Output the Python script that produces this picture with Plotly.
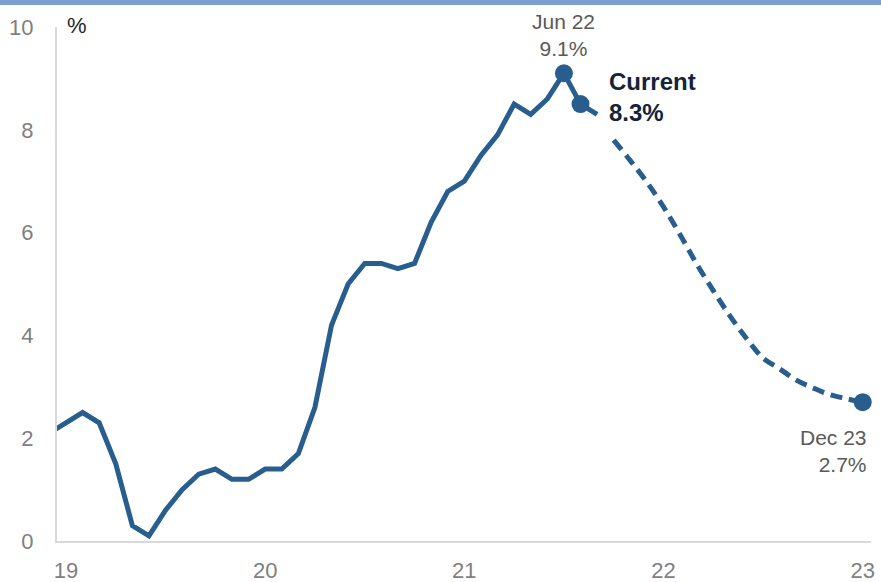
import plotly.graph_objects as go

# months since Dec 2019 (0 = Dec 19, 12 = Dec 20, ...)
actual_months = list(range(-1, 33))  # Nov 19 .. Aug 22
actual_values = [2.1, 2.3, 2.5, 2.3, 1.5, 0.3, 0.1, 0.6, 1.0, 1.3, 1.4, 1.2, 1.2, 1.4,
                 1.4, 1.7, 2.6, 4.2, 5.0, 5.4, 5.4, 5.3, 5.4, 6.2, 6.8, 7.0,
                 7.5, 7.9, 8.5, 8.3, 8.6, 9.1, 8.5, 8.3]

proj_months = list(range(33, 49))  # Sep 22 .. Dec 23
proj_values = [7.8, 7.4, 6.98, 6.5, 5.96, 5.39, 4.87, 4.38, 3.94, 3.56, 3.35,
               3.13, 2.98, 2.85, 2.77, 2.7]

marker_months = [30, 31, 48]
marker_values = [9.1, 8.5, 2.7]

tick_vals = [0, 12, 24, 36, 48]
tick_text = ["19", "20", "21", "22", "23"]
y_ticks = [0, 2, 4, 6, 8, 10]

LINE = "#285e8e"
FONT = "Liberation Sans, Arial, sans-serif"

fig = go.Figure()
fig.add_trace(go.Scatter(x=actual_months, y=actual_values, mode="lines",
                         line=dict(color=LINE, width=5), hoverinfo="skip"))
fig.add_trace(go.Scatter(x=proj_months, y=proj_values, mode="lines",
                         line=dict(color=LINE, width=5, dash="12px,7px", shape="spline"),
                         hoverinfo="skip"))
fig.add_trace(go.Scatter(x=marker_months, y=marker_values, mode="markers",
                         marker=dict(color=LINE, size=18), cliponaxis=False,
                         hoverinfo="skip"))

fig.update_layout(
    width=881, height=582,
    margin=dict(l=57, r=10, t=27, b=41, autoexpand=False),
    paper_bgcolor="white", plot_bgcolor="white",
    showlegend=False,
    font=dict(family=FONT, size=21, color="#7f7f7f"),
    xaxis=dict(range=[-0.54, 48.5], tickvals=tick_vals, ticktext=tick_text,
               showgrid=False, zeroline=False, showline=True, linecolor="#d9d9d9",
               linewidth=2, ticks="", ticklabelstandoff=9, automargin=False,
               tickfont=dict(size=22, color="#7f7f7f")),
    yaxis=dict(range=[0, 10], tickvals=y_ticks, showgrid=False, zeroline=False,
               showline=True, linecolor="#d9d9d9", linewidth=2, ticks="",
               ticklabelstandoff=17, automargin=False,
               tickfont=dict(size=22, color="#7f7f7f")),
    shapes=[dict(type="rect", xref="paper", yref="paper",
                 x0=-0.2, x1=1.2, y0=1 + 22 / 514, y1=1 + 30 / 514,
                 fillcolor="#7c9ed2", line=dict(width=0), layer="above")],
)

fig.add_annotation(xref="paper", x=0.01, y=10, xanchor="left", yanchor="middle",
                   yshift=2, text="%", showarrow=False,
                   font=dict(size=22, color="#262626"))
fig.add_annotation(x=marker_months[0], y=marker_values[0], text="Jun 22<br>9.1%",
                   showarrow=False, xanchor="center", yanchor="bottom", yshift=11,
                   align="center", font=dict(size=21, color="#595959"))
fig.add_annotation(x=marker_months[1], y=marker_values[1], text="<b>Current<br>8.3%</b>",
                   showarrow=False, xanchor="left", yanchor="middle", xshift=26, yshift=7,
                   align="left", font=dict(size=24, color="#13243a"))
fig.add_annotation(x=marker_months[2], y=marker_values[2], text="Dec 23<br>2.7%",
                   showarrow=False, xanchor="right", yanchor="top", xshift=6, yshift=-22,
                   align="right", font=dict(size=21, color="#595959"))

fig.write_html("out.html", config={"displayModeBar": False},
               post_script="document.body.style.margin='0';document.body.style.overflow='hidden';")
